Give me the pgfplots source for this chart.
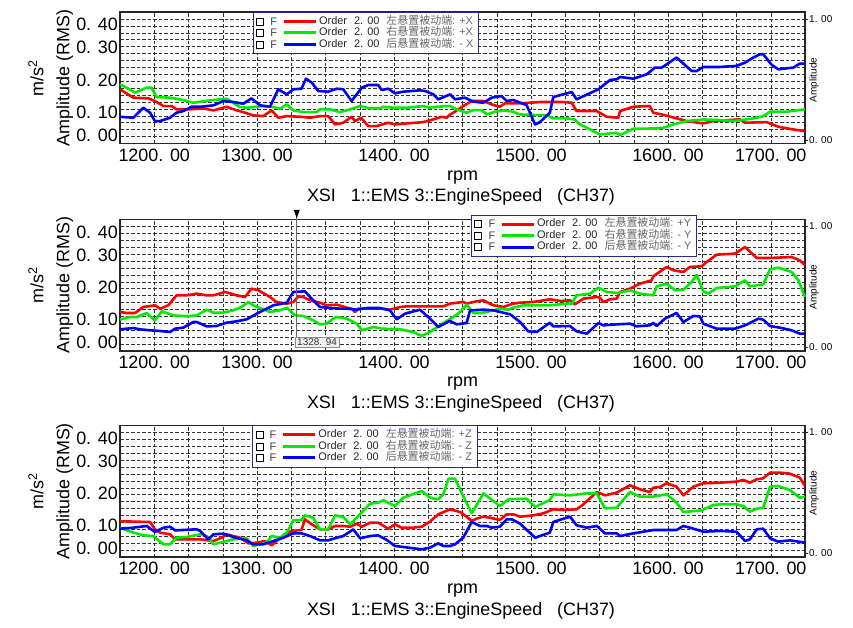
\documentclass[border=0pt]{standalone}
\usepackage{pgfplots}
\pgfplotsset{compat=1.18}
\usepackage{fontspec}
\setmainfont{Liberation Sans}
\newfontfamily\cjk{Noto Sans CJK SC}
\definecolor{cred}{RGB}{255,0,0}
\definecolor{cgreen}{RGB}{0,235,0}
\definecolor{cblue}{RGB}{0,0,255}
\definecolor{navy}{RGB}{40,40,140}
\newcommand\bigf{\fontsize{18}{20}\selectfont}
\newcommand\smallf{\fontsize{10}{12}\selectfont}
\newcommand\legf{\fontsize{11}{13}\selectfont}
\newcommand\lt[2]{\textcolor{black!85}{Order\hspace{7bp}2. 00}\hspace{7bp}\textcolor{black!60}{{\cjk #1}: #2}}
\newcommand\ttl{XSI\ \ \ 1::EMS\ 3::EngineSpeed\ \ \ (CH37)}

\pgfplotsset{
  panel/.style={
    scale only axis, width=685bp, height=131.5bp, anchor=north west,
    xmin=0, xmax=20, ymin=0, ymax=19,
    xtick={1,4,8,12,16,19},
    xticklabels={1200. 00,1300. 00,1400. 00,1500. 00,1600. 00,1700. 00},
    minor xtick={1,...,19},
    ytick={1.2,4.55,9.15,13.85,17.2},
    yticklabels={0. 00,0. 10,0. 20,0. 30,0. 40},
    minor ytick={1,...,18},
    xminorgrids, yminorgrids,
    minor grid style={black!80, dash pattern=on 3.5bp off 2bp, line width=0.5bp},
    major tick length=0pt, minor tick length=0pt,
    ticklabel style={font=\bigf},
    yticklabel style={inner xsep=2bp},
    xticklabel style={inner ysep=5bp},
    ylabel={Amplitude (RMS)}, ylabel style={font=\bigf, inner sep=1bp},
    axis line style={black!85, line width=1.4bp},
    clip=false,
    legend cell align=left,
    legend style={anchor=north west, draw=navy, line width=0.9bp, fill=white,
      font=\legf, inner xsep=3bp, inner ysep=3.5bp, row sep=0pt,
      nodes={inner ysep=0.5bp, text height=8bp, text depth=2.5bp}},
    legend image code/.code={
      \draw[black, line width=0.5bp, fill=white] (0bp,-3.5bp) rectangle (7bp,3.5bp);
      \node[anchor=west, inner sep=0pt, text height=, text depth=, text=black!75, font=\legf] at (12.5bp,0) {F};
      \draw[##1, line width=3bp] (27bp,0) -- (59bp,0);
    },
  },
  rpanel/.style={
    scale only axis, width=685bp, height=131.5bp, anchor=north west,
    xmin=0, xmax=20, ymin=-0.0286, ymax=1.0571,
    axis x line=none, axis y line*=right,
    axis line style={draw=none},
    ytick={0,1}, yticklabels={0. 00,1. 00},
    major tick length=3bp, tick align=outside,
    tick style={black!85, line width=0.6bp},
    yticklabel style={font=\smallf, inner xsep=1bp},
  },
  rl/.style={cred, line width=2.6bp, line join=round},
  gl/.style={cgreen, line width=2.6bp, line join=round},
  bl/.style={cblue, line width=2.6bp, line join=round},
}

\begin{document}
\begin{tikzpicture}
\path[use as bounding box] (0,0) rectangle (853bp,-628bp);

% ---------------- Panel 1 ----------------
\begin{axis}[panel, at={(120bp,-12bp)}, legend style={at={(0.194,1.003)}}]
\addplot[rl] coordinates {(0,7.83) (0.39,6.62) (0.83,6.52) (1.02,6.14) (1.27,5.41) (1.51,5.41) (1.65,4.93) (2.04,4.93) (2.43,5.07) (2.73,4.78) (3.11,5.31) (3.41,4.78) (3.60,4.54) (3.89,4.06) (4.18,3.96) (4.43,4.78) (4.62,3.72) (4.87,3.96) (5.26,3.86) (5.55,3.72) (5.84,3.96) (6.08,3.96) (6.28,2.75) (6.52,3.00) (6.76,3.86) (6.86,3.24) (7.04,3.72) (7.25,2.51) (7.49,2.51) (7.83,3.00) (8.03,2.75) (8.37,2.90) (8.86,3.09) (9.15,3.48) (9.39,3.86) (9.54,3.72) (9.64,4.20) (9.73,4.44) (10.02,5.41) (10.27,6.14) (10.61,6.14) (10.85,5.65) (11.09,5.31) (11.24,5.80) (11.68,5.80) (11.97,5.89) (12.26,5.99) (12.94,5.99) (13.19,5.89) (13.33,4.69) (13.92,4.69) (14.21,3.86) (14.55,3.72) (14.60,4.69) (14.99,5.31) (15.47,5.41) (15.57,4.44) (15.82,4.20) (16.55,3.24) (17.03,2.90) (17.32,3.24) (18.10,3.48) (18.25,3.00) (18.88,3.09) (19.22,2.42) (19.66,2.03) (20,1.79)};
\addplot[gl] coordinates {(0,8.55) (0.19,8.07) (0.44,7.34) (0.78,8.07) (0.92,8.07) (1.07,6.71) (1.46,6.62) (1.85,6.28) (2.14,5.89) (2.63,6.23) (3.11,6.47) (3.31,5.89) (3.50,5.27) (3.70,5.17) (4.18,5.41) (4.48,5.27) (4.67,5.02) (4.87,5.65) (5.06,4.78) (5.35,4.54) (5.74,4.54) (5.84,4.93) (6.13,4.93) (6.42,4.54) (6.72,4.93) (7.01,5.41) (7.30,5.07) (7.59,5.07) (7.69,5.31) (7.98,5.17) (8.37,5.17) (8.86,5.41) (9.05,5.17) (9.25,5.31) (9.64,5.41) (9.83,4.93) (10.12,4.44) (10.32,4.83) (10.56,4.83) (10.71,4.20) (10.95,4.59) (11.24,4.78) (11.48,4.59) (11.68,4.20) (12.12,4.11) (12.46,4.11) (12.65,3.62) (13.04,3.62) (13.28,3.48) (13.38,2.90) (13.63,2.27) (14.01,1.30) (14.50,1.55) (14.60,1.21) (14.99,2.13) (15.57,2.17) (15.86,2.27) (16.16,2.75) (16.55,3.24) (17.03,3.48) (17.52,3.38) (17.91,3.24) (18.49,3.62) (18.78,3.96) (18.98,4.59) (19.46,4.59) (19.75,4.78) (20,4.93)};
\addplot[bl] coordinates {(0,3.86) (0.39,3.72) (0.68,5.17) (0.88,4.44) (1.02,3.24) (1.17,3.24) (1.46,3.72) (1.65,4.44) (1.85,4.69) (2.09,5.31) (2.34,5.31) (2.73,5.51) (3.02,6.14) (3.31,5.99) (3.60,5.75) (3.84,6.52) (4.09,5.51) (4.38,5.31) (4.62,7.83) (4.87,7.10) (5.06,7.83) (5.30,7.92) (5.43,9.37) (5.60,8.79) (5.79,7.58) (6.08,7.49) (6.33,7.92) (6.52,7.83) (6.76,6.14) (6.91,7.10) (7.06,8.07) (7.25,8.45) (7.54,8.45) (7.64,7.73) (7.83,7.92) (8.03,7.25) (8.27,7.49) (8.76,7.68) (8.91,7.58) (9.15,7.10) (9.29,6.38) (9.64,7.10) (9.78,6.38) (10.07,6.62) (10.32,6.04) (10.61,5.89) (10.85,6.62) (11.14,6.86) (11.29,6.14) (11.48,6.28) (11.87,5.56) (12.12,2.75) (12.26,3.09) (12.55,4.44) (12.65,6.71) (13.19,7.44) (13.33,6.38) (13.97,7.83) (14.31,9.18) (14.50,9.28) (14.60,9.61) (14.99,9.37) (15.38,10.0) (15.62,10.97) (15.82,10.97) (16.25,12.42) (16.69,10.48) (16.84,10.48) (17.03,11.06) (17.52,11.06) (18.00,11.21) (18.25,11.69) (18.49,12.42) (18.69,12.90) (18.78,12.90) (19.03,11.35) (19.22,10.72) (19.66,10.97) (19.85,11.55) (20,11.55)};
\legend{\lt{左悬置被动端}{+X},\lt{右悬置被动端}{+X},\lt{后悬置被动端}{- X}}
\end{axis}
\begin{axis}[rpanel, at={(120bp,-12bp)}]
\end{axis}
\node[rotate=90, font=\bigf] at (36bp,-78bp) {m/s\textsuperscript{2}};
\node[rotate=90, font=\smallf] at (814bp,-80bp) {Amplitude};
\node[font=\bigf] at (462.5bp,-178bp) {rpm};
\node[font=\bigf] at (461bp,-197bp) {\ttl};

% ---------------- Panel 2 ----------------
\begin{axis}[panel, at={(120bp,-219.5bp)}, legend style={at={(0.5124,1.038)}}]
\addplot[rl] coordinates {(0,5.64) (0.19,5.49) (0.44,5.49) (0.68,6.36) (1.02,6.60) (1.17,6.12) (1.41,6.60) (1.65,8.04) (1.95,8.04) (2.24,8.29) (2.53,8.04) (2.73,8.04) (3.07,8.53) (3.41,8.04) (3.65,7.80) (3.84,9.01) (4.04,8.77) (4.38,7.80) (4.57,7.08) (4.87,6.84) (5.06,7.08) (5.21,7.90) (5.35,7.80) (5.55,7.32) (5.84,6.98) (6.03,6.60) (6.33,6.70) (6.62,6.26) (6.76,6.12) (6.86,5.64) (6.96,6.12) (7.30,6.12) (7.64,6.12) (7.88,5.97) (8.18,6.36) (8.37,6.45) (9.44,6.45) (9.63,6.84) (10.02,7.08) (10.12,6.84) (10.41,7.18) (10.61,7.32) (10.80,6.84) (10.90,6.60) (11.19,6.36) (11.48,6.84) (11.68,6.98) (12.07,7.08) (12.55,7.47) (12.85,7.23) (13.14,7.32) (13.28,6.74) (13.53,7.56) (13.92,7.80) (14.01,7.71) (14.11,7.08) (14.31,7.47) (14.50,7.56) (14.60,8.53) (14.89,9.01) (15.18,9.73) (15.52,10.21) (15.57,10.79) (15.96,12.14) (16.16,11.66) (16.45,11.42) (16.64,12.14) (16.98,12.24) (17.13,12.86) (17.42,13.92) (17.96,14.07) (18.25,15.03) (18.59,13.44) (18.98,13.44) (19.61,13.58) (19.85,13.10) (20,12.38)};
\addplot[gl] coordinates {(0,4.53) (0.29,4.91) (0.49,4.91) (0.78,5.49) (1.02,4.43) (1.22,5.73) (1.56,5.15) (1.95,5.01) (2.24,5.15) (2.53,5.97) (2.73,5.54) (3.02,5.54) (3.31,5.88) (3.55,6.36) (3.75,7.08) (3.89,6.60) (4.14,6.12) (4.38,5.64) (4.67,5.88) (4.87,6.26) (5.11,5.15) (5.35,5.06) (5.64,4.43) (5.84,3.85) (6.03,3.95) (6.23,4.67) (6.33,4.91) (6.62,4.67) (6.91,3.95) (7.06,2.99) (7.40,3.47) (7.64,3.23) (8.18,3.13) (8.56,2.75) (8.81,2.17) (9.05,2.75) (9.34,3.71) (9.73,4.91) (9.93,5.64) (10.12,6.70) (10.32,5.49) (10.56,5.49) (10.90,5.88) (11.09,6.12) (11.34,5.97) (11.48,6.26) (11.77,6.60) (12.55,6.60) (13.04,6.84) (13.19,6.84) (13.33,8.04) (13.72,8.29) (13.97,9.15) (14.21,8.53) (14.55,8.38) (14.89,8.77) (15.18,8.29) (15.57,8.04) (15.67,9.34) (15.96,9.73) (16.21,8.77) (16.45,8.86) (16.69,9.97) (16.84,11.0) (17.03,8.62) (17.18,8.29) (17.42,9.10) (17.96,9.34) (18.25,10.21) (18.39,9.34) (18.78,9.63) (18.98,11.80) (19.22,12.04) (19.61,11.42) (19.81,10.21) (20,7.80)};
\addplot[bl] coordinates {(0,3.13) (0.39,3.32) (0.58,3.13) (0.88,2.99) (1.17,2.89) (1.46,2.75) (1.61,3.23) (1.85,3.37) (2.14,4.19) (2.24,4.19) (2.53,3.56) (2.82,3.61) (3.11,4.09) (3.41,4.29) (3.70,4.58) (3.99,5.39) (4.48,6.60) (4.87,6.98) (5.06,8.53) (5.40,8.62) (5.55,7.80) (5.84,6.36) (6.03,6.26) (6.42,6.12) (6.62,6.12) (6.91,5.97) (7.20,6.21) (7.59,6.21) (7.88,5.88) (8.08,4.58) (8.32,5.39) (8.76,5.97) (9.05,4.67) (9.29,3.47) (9.63,4.34) (9.83,3.85) (10.12,4.05) (10.22,5.88) (10.61,5.97) (10.90,5.88) (11.39,5.30) (11.68,4.19) (11.92,2.84) (12.17,2.75) (12.55,4.09) (12.65,3.56) (13.14,3.61) (13.33,2.84) (13.63,2.50) (13.97,4.05) (14.11,3.71) (14.50,3.85) (14.89,3.95) (15.08,3.56) (15.47,3.71) (15.57,4.05) (15.67,3.61) (15.91,4.67) (16.25,5.49) (16.45,4.19) (16.74,5.06) (16.93,5.01) (17.03,3.95) (17.42,3.23) (17.96,3.23) (18.25,3.71) (18.64,4.67) (18.78,4.53) (18.98,3.61) (19.27,3.37) (19.61,2.99) (19.85,2.50) (20,2.50)};
\legend{\lt{左悬置被动端}{+Y},\lt{右悬置被动端}{- Y},\lt{后悬置被动端}{- Y}}
% cursor
\draw[black!60, line width=1.1bp] (axis cs:5.16,2.0) -- (axis cs:5.16,19.4);
\fill[black] (axis cs:5.07,20.4) -- (axis cs:5.25,20.4) -- (axis cs:5.16,19.2) -- cycle;
\node[anchor=north west, draw=black!45, fill=black!6, font=\smallf, text=black!80, inner xsep=2bp, inner ysep=1.5bp] at (axis cs:5.11,2.0) {1328. 94};
\end{axis}
\begin{axis}[rpanel, at={(120bp,-219.5bp)}]
\end{axis}
\node[rotate=90, font=\bigf] at (36bp,-285bp) {m/s\textsuperscript{2}};
\node[rotate=90, font=\smallf] at (814bp,-287bp) {Amplitude};
\node[font=\bigf] at (462.5bp,-384bp) {rpm};
\node[font=\bigf] at (461bp,-404bp) {\ttl};

% ---------------- Panel 3 ----------------
\begin{axis}[panel, at={(120bp,-425.5bp)}, legend style={at={(0.193,1.003)}}]
\addplot[rl] coordinates {(0,5.20) (0.39,5.11) (0.88,5.06) (1.02,4.00) (1.17,3.52) (1.46,3.28) (1.61,2.55) (2.34,2.55) (2.73,2.31) (2.97,2.79) (3.11,3.28) (3.31,3.03) (3.50,2.79) (3.75,1.97) (3.99,2.07) (4.23,2.31) (4.43,1.69) (4.57,2.31) (4.82,3.28) (5.01,3.76) (5.30,3.90) (5.40,5.44) (5.60,4.72) (5.84,4.00) (6.08,4.00) (6.28,4.48) (6.52,4.48) (6.72,4.38) (6.91,4.82) (7.06,4.38) (7.30,4.96) (7.54,4.96) (7.83,4.09) (8.03,4.72) (8.22,4.24) (8.56,4.24) (8.81,4.38) (9.05,5.11) (9.29,6.17) (9.64,6.89) (9.93,6.50) (10.12,5.83) (10.27,5.20) (10.41,5.54) (10.61,5.83) (10.80,5.68) (11.09,5.35) (11.29,6.17) (11.48,6.17) (11.68,5.83) (12.07,6.02) (12.36,6.31) (12.65,6.89) (12.94,6.79) (13.33,6.89) (13.53,7.61) (13.92,9.39) (14.16,8.91) (14.50,9.30) (14.89,10.36) (15.18,9.78) (15.47,9.39) (15.57,10.02) (15.77,10.12) (15.96,10.65) (16.25,10.16) (16.45,8.91) (16.74,10.16) (17.03,10.65) (17.52,10.74) (18.00,10.89) (18.20,11.13) (18.39,10.74) (18.59,11.22) (18.78,11.37) (18.98,12.19) (19.27,12.19) (19.56,12.04) (19.85,11.46) (20,10.26)};
\addplot[gl] coordinates {(0,4.24) (0.39,3.52) (0.68,3.13) (0.97,3.03) (1.27,1.83) (1.46,1.83) (1.65,2.79) (1.95,2.89) (2.34,3.28) (2.53,3.03) (2.73,1.83) (2.92,2.07) (3.31,2.55) (3.70,2.70) (3.89,1.59) (4.09,1.83) (4.28,2.07) (4.43,3.03) (4.67,2.79) (4.87,3.52) (5.06,5.30) (5.30,5.30) (5.40,6.02) (5.64,5.68) (5.84,4.00) (6.08,4.00) (6.28,6.02) (6.52,5.78) (6.72,4.72) (6.91,5.68) (7.10,6.65) (7.30,7.71) (7.54,7.85) (7.69,8.19) (8.03,7.37) (8.27,8.57) (8.81,9.54) (9.05,8.57) (9.29,8.33) (9.44,9.06) (9.59,11.32) (9.78,11.32) (10.02,8.81) (10.27,6.31) (10.61,9.20) (11.09,7.37) (11.34,8.33) (11.87,8.43) (12.12,7.23) (12.55,8.24) (12.65,9.06) (13.14,8.91) (13.63,9.20) (13.92,9.20) (14.16,7.03) (14.50,7.13) (14.89,9.39) (15.18,8.72) (15.57,8.72) (15.96,9.06) (16.25,7.85) (16.45,6.50) (16.98,6.74) (17.32,7.51) (17.52,7.61) (18.00,7.61) (18.20,7.37) (18.39,6.55) (18.59,6.98) (18.78,7.13) (18.98,10.16) (19.22,10.26) (19.56,9.68) (19.85,8.57) (20,8.72)};
\addplot[bl] coordinates {(0,4.09) (0.39,4.24) (0.78,4.48) (1.02,3.61) (1.27,4.24) (1.46,4.38) (1.61,3.85) (2.24,4.00) (2.34,3.76) (2.58,2.55) (2.73,3.28) (3.02,3.37) (3.31,2.89) (3.70,2.41) (3.89,1.83) (4.18,1.83) (4.48,2.31) (4.77,2.79) (5.06,3.42) (5.30,3.42) (5.55,3.03) (5.84,2.41) (6.08,2.41) (6.33,2.79) (6.52,3.03) (6.81,4.00) (7.01,2.70) (7.30,3.03) (7.54,3.13) (7.79,2.46) (8.03,1.59) (8.27,1.45) (8.81,1.11) (9.05,1.35) (9.29,1.97) (9.44,1.59) (9.64,1.59) (9.78,1.83) (10.02,2.79) (10.27,5.06) (10.51,4.48) (10.71,4.48) (10.85,4.24) (11.09,4.38) (11.29,5.44) (11.44,5.44) (11.68,4.82) (12.12,2.79) (12.55,3.52) (12.65,5.06) (13.14,5.83) (13.33,4.58) (13.63,4.24) (13.92,4.48) (14.16,3.42) (14.50,3.42) (14.60,3.03) (14.99,3.42) (15.57,3.90) (16.25,3.90) (16.45,4.48) (16.64,4.24) (17.03,3.66) (17.52,3.76) (18.00,3.66) (18.25,2.31) (18.39,2.55) (18.59,4.00) (18.78,4.09) (18.98,2.70) (19.22,2.22) (19.56,2.41) (20,2.07)};
\legend{\lt{左悬置被动端}{+Z},\lt{右悬置被动端}{- Z},\lt{后悬置被动端}{- Z}}
\end{axis}
\begin{axis}[rpanel, at={(120bp,-425.5bp)}]
\end{axis}
\node[rotate=90, font=\bigf] at (36bp,-491bp) {m/s\textsuperscript{2}};
\node[rotate=90, font=\smallf] at (814bp,-493bp) {Amplitude};
\node[font=\bigf] at (462.5bp,-591bp) {rpm};
\node[font=\bigf] at (461bp,-611bp) {\ttl};
\end{tikzpicture}
\end{document}
